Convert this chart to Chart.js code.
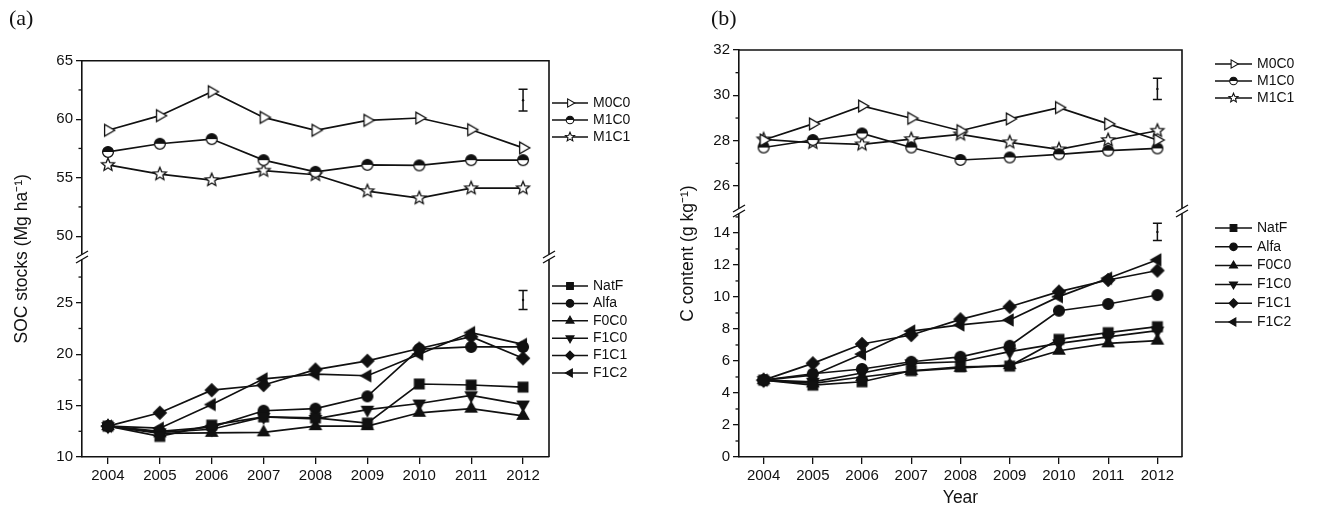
<!DOCTYPE html>
<html><head><meta charset="utf-8">
<script src="https://cdn.jsdelivr.net/npm/chart.js@4.4.1/dist/chart.umd.min.js"></script>
<style>
html,body{margin:0;padding:0;background:#fff;}
#wrap{position:relative;width:1317px;height:509px;overflow:hidden;background:#fff;}
.cv{position:absolute;top:0;}
.lab{position:absolute;font-family:'Liberation Serif','Times New Roman',serif;font-size:22px;color:#111;line-height:24px;}
</style></head><body>
<div id="wrap">
<canvas id="ca" class="cv" width="660" height="509" style="left:0px"></canvas>
<canvas id="cb" class="cv" width="657" height="509" style="left:660px"></canvas>
<div class="lab" style="left:9px;top:6px">(a)</div>
<div class="lab" style="left:711px;top:6px">(b)</div>
</div>
<script>
// ---------------- data ----------------
const years = ['2004','2005','2006','2007','2008','2009','2010','2011','2012'];

// Panel (a): SOC stocks (Mg ha-1)
const a_M0C0 = [59.05, 60.3, 62.35, 60.15, 59.05, 59.9, 60.1, 59.1, 57.55];
const a_M1C0 = [57.2, 57.9, 58.3, 56.5, 55.5, 56.1, 56.05, 56.5, 56.5];
const a_M1C1 = [56.1, 55.3, 54.8, 55.6, 55.25, 53.85, 53.25, 54.1, 54.1];
const a_NatF = [13.0, 12.0, 13.1, 13.9, 13.8, 13.3, 17.1, 17.0, 16.8];
const a_Alfa = [13.0, 12.5, 12.9, 14.5, 14.7, 15.9, 20.5, 20.7, 20.7];
const a_F0C0 = [13.0, 12.3, 12.35, 12.4, 13.0, 13.0, 14.3, 14.7, 14.0];
const a_F1C0 = [13.0, 12.4, 12.7, 13.9, 13.7, 14.6, 15.2, 16.0, 15.1];
const a_F1C1 = [13.0, 14.3, 16.5, 17.0, 18.5, 19.35, 20.55, 21.7, 19.6];
const a_F1C2 = [13.0, 12.8, 15.1, 17.6, 18.05, 17.9, 20.0, 22.1, 20.95];
const a_errUpper = [60.7, 62.55];   // LSD bar (low, high)
const a_errLower = [24.35, 26.2];

// Panel (b): C content (g kg-1)
const b_M0C0 = [28.03, 28.74, 29.53, 28.99, 28.44, 28.96, 29.46, 28.74, 28.03];
const b_M1C0 = [27.7, 28.03, 28.32, 27.7, 27.15, 27.26, 27.4, 27.56, 27.66];
const b_M1C1 = [28.06, 27.91, 27.84, 28.07, 28.28, 27.93, 27.62, 28.03, 28.44];
const b_NatF = [4.8, 4.49, 4.7, 5.39, 5.64, 5.68, 7.35, 7.77, 8.14];
const b_Alfa = [4.8, 5.2, 5.5, 5.95, 6.26, 6.95, 9.14, 9.56, 10.12];
const b_F0C0 = [4.8, 4.6, 5.0, 5.37, 5.57, 5.74, 6.64, 7.1, 7.27];
const b_F1C0 = [4.8, 4.7, 5.25, 5.85, 5.95, 6.58, 7.1, 7.5, 7.9];
const b_F1C1 = [4.8, 5.85, 7.06, 7.62, 8.6, 9.39, 10.33, 11.06, 11.65];
const b_F1C2 = [4.8, 5.11, 6.43, 7.87, 8.25, 8.56, 10.02, 11.17, 12.32];
const b_errUpper = [29.82, 30.75];
const b_errLower = [13.53, 14.6];

// ---------------- markers ----------------
const INK = '#111';
const FONT = "'Liberation Sans', Arial, sans-serif";
function drawMarker(ctx, type, x, y, r, lw) {
  ctx.save();
  ctx.lineWidth = lw; ctx.strokeStyle = INK; ctx.fillStyle = INK; ctx.lineJoin = 'miter';
  ctx.beginPath();
  const poly = (pts) => { ctx.moveTo(x + pts[0][0], y + pts[0][1]); for (let i = 1; i < pts.length; i++) ctx.lineTo(x + pts[i][0], y + pts[i][1]); ctx.closePath(); };
  const tri = (ang) => { const p = []; for (let k = 0; k < 3; k++) { const a = ang + k * 2 * Math.PI / 3; p.push([r * Math.cos(a), r * Math.sin(a)]); } poly(p); };
  switch (type) {
    case 'triRightOpen': tri(0); ctx.fillStyle = '#fff'; ctx.fill(); ctx.stroke(); break;
    case 'halfCircle':
      ctx.arc(x, y, r, 0, 2 * Math.PI); ctx.fillStyle = '#fff'; ctx.fill();
      ctx.beginPath(); ctx.arc(x, y, r, Math.PI, 2 * Math.PI); ctx.closePath(); ctx.fillStyle = INK; ctx.fill();
      ctx.beginPath(); ctx.arc(x, y, r, 0, 2 * Math.PI); ctx.stroke(); break;
    case 'starOpen': {
      const p = []; for (let k = 0; k < 10; k++) { const a = -Math.PI / 2 + k * Math.PI / 5; const rr = (k % 2) ? r * 0.45 : r; p.push([rr * Math.cos(a), rr * Math.sin(a)]); }
      poly(p); ctx.fillStyle = '#fff'; ctx.fill(); ctx.stroke(); break; }
    case 'square': { const h = r * 0.8; poly([[-h, -h], [h, -h], [h, h], [-h, h]]); ctx.fill(); ctx.stroke(); break; }
    case 'circle': ctx.arc(x, y, r * 0.9, 0, 2 * Math.PI); ctx.fill(); ctx.stroke(); break;
    case 'triUp': tri(-Math.PI / 2); ctx.fill(); ctx.stroke(); break;
    case 'triDown': tri(Math.PI / 2); ctx.fill(); ctx.stroke(); break;
    case 'triLeft': tri(Math.PI); ctx.fill(); ctx.stroke(); break;
    case 'diamond': poly([[0, -r], [r, 0], [0, r], [-r, 0]]); ctx.fill(); ctx.stroke(); break;
  }
  ctx.restore();
}
const R = {triRightOpen: 6.8, halfCircle: 5.4, starOpen: 6.8, square: 6, circle: 6, triUp: 6.6, triDown: 6.6, triLeft: 6.6, diamond: 6.4};
function makeMarker(type, r) {
  const s = 2 * Math.ceil(r + 2);
  const c = document.createElement('canvas'); c.width = s; c.height = s;
  drawMarker(c.getContext('2d'), type, s / 2, s / 2, r, 1.3);
  return c;
}

// ---------------- decoration plugin ----------------
const decor = {
  id: 'decor',
  afterDraw(chart) {
    const o = chart.options.plugins.decor;
    const ctx = chart.ctx, ca = chart.chartArea;
    const yU = chart.scales.yU, yL = chart.scales.yL, x = chart.scales.x;
    ctx.save();
    ctx.strokeStyle = INK; ctx.fillStyle = INK;
    // minor ticks
    ctx.lineWidth = 1.3;
    [[yU, o.minorU], [yL, o.minorL]].forEach(([sc, list]) => {
      list.forEach(v => {
        const py = sc.getPixelForValue(v);
        if (py < sc.top + 3 || py > sc.bottom - 3) return;
        ctx.beginPath(); ctx.moveTo(ca.left - 3.5, py); ctx.lineTo(ca.left, py); ctx.stroke();
      });
    });
    // top and right frame lines
    ctx.lineWidth = 1.6;
    ctx.beginPath(); ctx.moveTo(ca.left - 0.8, ca.top); ctx.lineTo(ca.right, ca.top); ctx.lineTo(ca.right, ca.bottom); ctx.stroke();
    // axis breaks
    const yb = yU.bottom;
    [ca.left, ca.right].forEach(bx => {
      ctx.fillStyle = '#fff';
      ctx.fillRect(bx - 3, yb - 2.5, 6, 5);
      ctx.strokeStyle = INK; ctx.lineWidth = 1.4;
      ctx.beginPath();
      ctx.moveTo(bx - 6, yb - 2.5 + 3.5); ctx.lineTo(bx + 6, yb - 2.5 - 3.5);
      ctx.moveTo(bx - 6, yb + 2.5 + 3.5); ctx.lineTo(bx + 6, yb + 2.5 - 3.5);
      ctx.stroke();
    });
    // error (LSD) bars at last year
    ctx.strokeStyle = INK; ctx.fillStyle = INK; ctx.lineWidth = 1.5;
    const ex = x.getPixelForValue(years.length - 1);
    [[yU, o.errU], [yL, o.errL]].forEach(([sc, e]) => {
      const y1 = sc.getPixelForValue(e[1]), y2 = sc.getPixelForValue(e[0]);
      ctx.beginPath();
      ctx.moveTo(ex, y1); ctx.lineTo(ex, y2);
      ctx.moveTo(ex - 4.5, y1); ctx.lineTo(ex + 4.5, y1);
      ctx.moveTo(ex - 4.5, y2); ctx.lineTo(ex + 4.5, y2);
      ctx.stroke();
      ctx.beginPath(); ctx.arc(ex, (y1 + y2) / 2, 1.2, 0, 2 * Math.PI); ctx.fill();
    });
    // legends
    ctx.font = '14px ' + FONT; ctx.textBaseline = 'middle'; ctx.textAlign = 'left';
    const L = o.legend;
    chart.data.datasets.forEach((ds, i) => {
      const upper = ds.yAxisID === 'yU';
      const idx = upper ? i : i - o.nUpper;
      const y = upper ? L.u0 + idx * L.uStep : L.l0 + idx * L.lStep;
      ctx.strokeStyle = INK; ctx.lineWidth = 1.5;
      ctx.beginPath(); ctx.moveTo(L.x1, y); ctx.lineTo(L.x2, y); ctx.stroke();
      drawMarker(ctx, ds.marker, (L.x1 + L.x2) / 2, y, R[ds.marker] * 0.7, 1.1);
      ctx.fillStyle = INK;
      ctx.fillText(ds.label, L.tx, y);
    });
    ctx.restore();
  }
};

function mkDs(label, data, marker, axis) {
  return {label, data, marker, yAxisID: axis, xAxisID: 'x', borderColor: INK, borderWidth: 1.7,
    backgroundColor: INK, pointStyle: makeMarker(marker, R[marker]), pointRadius: 6, pointHoverRadius: 6,
    tension: 0, fill: false};
}

function build(id, c) {
  const datasets = [];
  c.upper.forEach(s => datasets.push(mkDs(s[0], s[1], s[2], 'yU')));
  c.lower.forEach(s => datasets.push(mkDs(s[0], s[1], s[2], 'yL')));
  const tickFont = {family: FONT, size: 15};
  const titleFont = {family: FONT, size: 17.5};
  const yCommon = (min, max, step, w, weight) => ({
    type: 'linear', position: 'left', stack: 'ystack', stackWeight: w, weight, min, max,
    ticks: {stepSize: step, includeBounds: false, autoSkip: false, color: INK, font: tickFont, padding: 3},
    grid: {display: true, drawOnChartArea: false, drawTicks: true, tickLength: 6, color: INK, lineWidth: 1.3},
    border: {display: true, color: INK, width: 1.6},
    afterFit: s => { s.width = c.stackW; }
  });
  return new Chart(document.getElementById(id), {
    type: 'line',
    data: {labels: years, datasets},
    options: {
      responsive: false, animation: false, events: [],
      layout: {padding: {left: 0, right: c.padRight, top: c.padTop, bottom: 0}},
      plugins: {legend: {display: false}, tooltip: {enabled: false},
        decor: {minorU: c.minorU, minorL: c.minorL, errU: c.errU, errL: c.errL, legend: c.legend, nUpper: c.upper.length}},
      scales: {
        x: {type: 'category', offset: true,
          grid: {display: true, drawOnChartArea: false, drawTicks: true, tickLength: 7, color: INK, lineWidth: 1.3},
          border: {display: true, color: INK, width: 1.6},
          ticks: {color: INK, font: tickFont, padding: 3, maxRotation: 0, autoSkip: false},
          title: c.xTitle ? {display: true, text: c.xTitle, color: INK, font: titleFont, padding: {top: 2, bottom: 0}} : {display: false},
          afterFit: s => { s.height = 52; }},
        yT: {type: 'linear', position: 'left', weight: 10, display: true,
          ticks: {display: false}, grid: {display: false, drawTicks: false}, border: {display: false},
          title: {display: true, text: c.yTitle, color: INK, font: titleFont, padding: {top: c.titlePad, bottom: 0}},
          afterFit: s => { s.width = c.titleW; }},
        yU: yCommon(c.uMin, c.uMax, c.uStep, c.wU, 2),
        yL: yCommon(c.lMin, c.lMax, c.lStep, c.wL, 1)
      }
    },
    plugins: [decor]
  });
}

build('ca', {
  upper: [['M0C0', a_M0C0, 'triRightOpen'], ['M1C0', a_M1C0, 'halfCircle'], ['M1C1', a_M1C1, 'starOpen']],
  lower: [['NatF', a_NatF, 'square'], ['Alfa', a_Alfa, 'circle'], ['F0C0', a_F0C0, 'triUp'],
          ['F1C0', a_F1C0, 'triDown'], ['F1C1', a_F1C1, 'diamond'], ['F1C2', a_F1C2, 'triLeft']],
  uMin: 48.22, uMax: 65, uStep: 5, lMin: 10, lMax: 29.45, lStep: 5, wU: 196.3, wL: 200,
  minorU: [52.5, 57.5, 62.5], minorL: [12.5, 17.5, 22.5, 27.5],
  errU: a_errUpper, errL: a_errLower,
  yTitle: 'SOC stocks (Mg ha\u207B\u00B9)', xTitle: null,
  titleW: 40, titlePad: 11.5, stackW: 42, padRight: 111, padTop: 60.7,
  legend: {x1: 552, x2: 588, tx: 593, u0: 103, uStep: 17, l0: 286, lStep: 17.4}
});

build('cb', {
  upper: [['M0C0', b_M0C0, 'triRightOpen'], ['M1C0', b_M1C0, 'halfCircle'], ['M1C1', b_M1C1, 'starOpen']],
  lower: [['NatF', b_NatF, 'square'], ['Alfa', b_Alfa, 'circle'], ['F0C0', b_F0C0, 'triUp'],
          ['F1C0', b_F1C0, 'triDown'], ['F1C1', b_F1C1, 'diamond'], ['F1C2', b_F1C2, 'triLeft']],
  uMin: 24.9, uMax: 32, uStep: 2, lMin: 0, lMax: 15.37, lStep: 2, wU: 161, wL: 246,
  minorU: [25, 27, 29, 31], minorL: [1, 3, 5, 7, 9, 11, 13, 15],
  errU: b_errUpper, errL: b_errLower,
  yTitle: 'C content (g kg\u207B\u00B9)', xTitle: 'Year',
  titleW: 40, titlePad: 17.5, stackW: 39, padRight: 135, padTop: 50,
  legend: {x1: 555, x2: 592, tx: 597, u0: 64, uStep: 17, l0: 228, lStep: 18.8}
});
</script>
</body></html>
